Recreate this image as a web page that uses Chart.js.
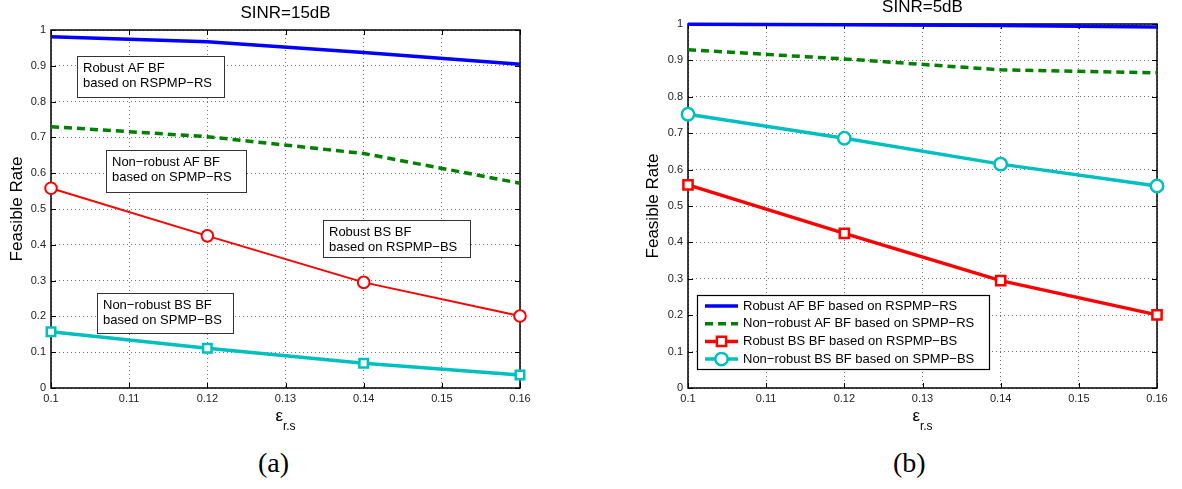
<!DOCTYPE html>
<html>
<head>
<meta charset="utf-8">
<script src="https://cdn.jsdelivr.net/npm/chart.js@4.4.1/dist/chart.umd.min.js"></script>
<style>
  body { margin: 0; background: #fff; width: 1182px; height: 489px; position: relative; overflow: hidden; }
  canvas { position: absolute; top: 0; }
  #chart-a { left: 0; }
  #chart-b { left: 600px; }
  .cap { position: absolute; top: 448px; line-height: 30px; font-size: 28px; font-family: "Liberation Serif", serif; color: #000; }
</style>
</head>
<body>
<canvas id="chart-a" width="560" height="430"></canvas>
<canvas id="chart-b" width="582" height="430"></canvas>
<div class="cap" style="left:258px">(a)</div>
<div class="cap" style="left:893px">(b)</div>
<script>
/* x axis: epsilon_{r,s} */
const EPS = [0.1, 0.12, 0.14, 0.16];
const X_TICKS = [0.1, 0.11, 0.12, 0.13, 0.14, 0.15, 0.16];
const Y_TICKS = [0, 0.1, 0.2, 0.3, 0.4, 0.5, 0.6, 0.7, 0.8, 0.9, 1];

const SERIES_NAMES = [
  "Robust AF BF based on RSPMP\u2212RS",
  "Non\u2212robust AF BF based on SPMP\u2212RS",
  "Robust BS BF based on RSPMP\u2212BS",
  "Non\u2212robust BS BF based on SPMP\u2212BS",
];

/* (a) SINR = 15 dB */
const A_ROBUST_AF = [0.981, 0.967, 0.937, 0.904];
const A_NONROBUST_AF = [0.730, 0.702, 0.655, 0.572];
const A_ROBUST_BS = [0.558, 0.425, 0.295, 0.201];
const A_NONROBUST_BS = [0.157, 0.111, 0.069, 0.036];

/* (b) SINR = 5 dB */
const B_ROBUST_AF = [0.999, 0.998, 0.996, 0.992];
const B_NONROBUST_AF = [0.929, 0.904, 0.874, 0.866];
const B_ROBUST_BS = [0.558, 0.425, 0.295, 0.201];
const B_NONROBUST_BS = [0.752, 0.686, 0.615, 0.555];

const FONT = '"Liberation Sans", Arial, Helvetica, sans-serif';
const BLUE = "#0000ff", GREEN = "#008000", RED = "#ff0000", CYAN = "#00bfbf";

function pts(values) {
  return values.map(function (v, i) { return { x: EPS[i], y: v }; });
}

function series(label, values, style) {
  return Object.assign({
    label: label,
    data: pts(values),
    fill: false,
    tension: 0,
    clip: false,
    pointRadius: 0,
    pointBackgroundColor: "#fff",
  }, style);
}

// frame, inward ticks, title, x label, text boxes, legend
const decor = {
  id: "decor",
  beforeDatasetsDraw(chart) {
    const { ctx, chartArea: a, scales } = chart;
    ctx.save();
    ctx.strokeStyle = "#000";
    ctx.lineWidth = 1;
    ctx.beginPath();
    X_TICKS.forEach(function (v) {
      const x = Math.round(scales.x.getPixelForValue(v)) + 0.5;
      ctx.moveTo(x, a.bottom); ctx.lineTo(x, a.bottom - 5);
      ctx.moveTo(x, a.top); ctx.lineTo(x, a.top + 5);
    });
    Y_TICKS.forEach(function (v) {
      const y = Math.round(scales.y.getPixelForValue(v)) + 0.5;
      ctx.moveTo(a.left, y); ctx.lineTo(a.left + 5, y);
      ctx.moveTo(a.right, y); ctx.lineTo(a.right - 5, y);
    });
    ctx.stroke();
    ctx.lineWidth = 1.5;
    ctx.strokeRect(a.left, a.top, a.right - a.left, a.bottom - a.top);
    ctx.restore();
  },
  afterDatasetsDraw(chart, args, opts) {
    const ctx = chart.ctx;
    ctx.save();
    ctx.font = "13px " + FONT;
    ctx.textBaseline = "middle";
    ctx.textAlign = "left";
    (opts.notes || []).forEach(function (n) {
      ctx.fillStyle = "#fff";
      ctx.fillRect(n.x, n.y, n.w, n.h);
      ctx.strokeStyle = "#333";
      ctx.lineWidth = 1;
      ctx.strokeRect(n.x + 0.5, n.y + 0.5, n.w, n.h);
      ctx.fillStyle = "#000";
      ctx.fillText(n.lines[0], n.x + 6, n.y + 12.5);
      ctx.fillText(n.lines[1], n.x + 6, n.y + 27.5);
    });
    const lg = opts.legend;
    if (lg) {
      ctx.fillStyle = "#fff";
      ctx.fillRect(lg.x, lg.y, lg.w, lg.h);
      ctx.strokeStyle = "#000";
      ctx.lineWidth = 1.2;
      ctx.strokeRect(lg.x + 0.5, lg.y + 0.5, lg.w, lg.h);
      chart.data.datasets.forEach(function (ds, i) {
        const y = lg.y + 11 + i * 17.7;
        const x0 = lg.x + 8, x1 = lg.x + 41;
        ctx.strokeStyle = ds.borderColor;
        ctx.lineWidth = ds.borderWidth;
        ctx.setLineDash(ds.borderDash || []);
        ctx.beginPath();
        ctx.moveTo(x0, y); ctx.lineTo(x1, y);
        ctx.stroke();
        ctx.setLineDash([]);
        if (ds.pointRadius > 0) {
          ctx.fillStyle = "#fff";
          ctx.strokeStyle = ds.borderColor;
          ctx.lineWidth = ds.pointBorderWidth;
          Chart.helpers.drawPoint(ctx, {
            pointStyle: ds.pointStyle, radius: ds.pointRadius,
            borderWidth: ds.pointBorderWidth, rotation: 0,
          }, (x0 + x1) / 2, y);
        }
        ctx.fillStyle = "#000";
        ctx.fillText(ds.label, lg.x + 46, y);
      });
    }
    ctx.restore();
  },
  afterDraw(chart, args, opts) {
    const { ctx, chartArea: a } = chart;
    const cx = (a.left + a.right) / 2;
    ctx.save();
    ctx.fillStyle = "#000";
    ctx.textBaseline = "middle";
    ctx.textAlign = "center";
    ctx.font = "17px " + FONT;
    ctx.fillText(opts.title, cx, opts.titleY);
    // epsilon with subscript r,s
    ctx.textAlign = "left";
    ctx.textBaseline = "alphabetic";
    ctx.font = "17px " + FONT;
    const w1 = ctx.measureText("\u03b5").width;
    ctx.font = "12px " + FONT;
    const w2 = ctx.measureText("r,s").width;
    const sx = cx - (w1 + w2) / 2;
    ctx.font = "17px " + FONT;
    ctx.fillText("\u03b5", sx, a.bottom + 33);
    ctx.font = "12px " + FONT;
    ctx.fillText("r,s", sx + w1, a.bottom + 42);
    ctx.restore();
  },
};

function makeChart(id, datasets, setup) {
  const canvas = document.getElementById(id);
  return new Chart(canvas.getContext("2d"), {
    type: "line",
    data: { datasets: datasets },
    plugins: [decor],
    options: {
      responsive: false,
      animation: false,
      layout: { padding: setup.padding },
      plugins: {
        legend: { display: false },
        tooltip: { enabled: false },
        decor: setup.decor,
      },
      scales: {
        x: {
          type: "linear",
          min: 0.1,
          max: 0.16,
          afterFit: function (s) { s.height = 42; },
          afterBuildTicks: function (s) { s.ticks = X_TICKS.map(function (v) { return { value: v }; }); },
          ticks: {
            callback: function (v) { return String(+v.toFixed(2)); },
            autoSkip: false,
            maxRotation: 0,
            padding: 4,
            color: "#222",
            font: { family: FONT, size: 11 },
          },
          grid: { color: "rgba(0,0,0,0.55)", drawTicks: false, borderDash: [1, 3] },
          border: { display: false, dash: [1, 3] },
        },
        y: {
          type: "linear",
          min: 0,
          max: 1,
          afterFit: function (s) { s.width = setup.yWidth; },
          afterBuildTicks: function (s) { s.ticks = Y_TICKS.map(function (v) { return { value: v }; }); },
          ticks: {
            callback: function (v) { return String(+v.toFixed(2)); },
            padding: 5,
            color: "#222",
            font: { family: FONT, size: 11 },
          },
          grid: { color: "rgba(0,0,0,0.55)", drawTicks: false, borderDash: [1, 3] },
          border: { display: false, dash: [1, 3] },
          title: {
            display: true,
            text: "Feasible Rate",
            color: "#000",
            font: { family: FONT, size: 17 },
            padding: { top: setup.yTitlePad, bottom: 0 },
          },
        },
      },
    },
  });
}

makeChart("chart-a", [
  series(SERIES_NAMES[0], A_ROBUST_AF, { borderColor: BLUE, borderWidth: 3.5 }),
  series(SERIES_NAMES[1], A_NONROBUST_AF, { borderColor: GREEN, borderWidth: 3.5, borderDash: [8, 5] }),
  series(SERIES_NAMES[2], A_ROBUST_BS, {
    borderColor: RED, borderWidth: 2, pointStyle: "circle", pointRadius: 5.8,
    pointBorderWidth: 2, pointBorderColor: RED,
  }),
  series(SERIES_NAMES[3], A_NONROBUST_BS, {
    borderColor: CYAN, borderWidth: 3.5, pointStyle: "rect", pointRadius: 6,
    pointBorderWidth: 2.5, pointBorderColor: CYAN,
  }),
], {
  padding: { left: 0, right: 40, top: 30, bottom: 0 },
  yWidth: 51,
  yTitlePad: 7,
  decor: {
    title: "SINR=15dB",
    titleY: 13,
    notes: [
      { x: 77, y: 56, w: 147, h: 41, lines: ["Robust AF BF", "based on RSPMP\u2212RS"] },
      { x: 106, y: 150, w: 140, h: 42, lines: ["Non\u2212robust AF BF", "based on SPMP\u2212RS"] },
      { x: 323, y: 220, w: 147, h: 37, lines: ["Robust BS BF", "based on RSPMP\u2212BS"] },
      { x: 97, y: 293, w: 136, h: 40, lines: ["Non\u2212robust BS BF", "based on SPMP\u2212BS"] },
    ],
  },
});

makeChart("chart-b", [
  series(SERIES_NAMES[0], B_ROBUST_AF, { borderColor: BLUE, borderWidth: 3.5 }),
  series(SERIES_NAMES[1], B_NONROBUST_AF, { borderColor: GREEN, borderWidth: 3.5, borderDash: [8, 5] }),
  series(SERIES_NAMES[2], B_ROBUST_BS, {
    borderColor: RED, borderWidth: 3.5, pointStyle: "rect", pointRadius: 6.5,
    pointBorderWidth: 2.5, pointBorderColor: RED,
  }),
  series(SERIES_NAMES[3], B_NONROBUST_BS, {
    borderColor: CYAN, borderWidth: 3.5, pointStyle: "circle", pointRadius: 6.2,
    pointBorderWidth: 2.5, pointBorderColor: CYAN,
  }),
], {
  padding: { left: 40, right: 25, top: 24, bottom: 0 },
  yWidth: 48,
  yTitlePad: 3,
  decor: {
    title: "SINR=5dB",
    titleY: 7,
    legend: { x: 97, y: 295, w: 292, h: 74 },
  },
});
</script>
</body>
</html>
